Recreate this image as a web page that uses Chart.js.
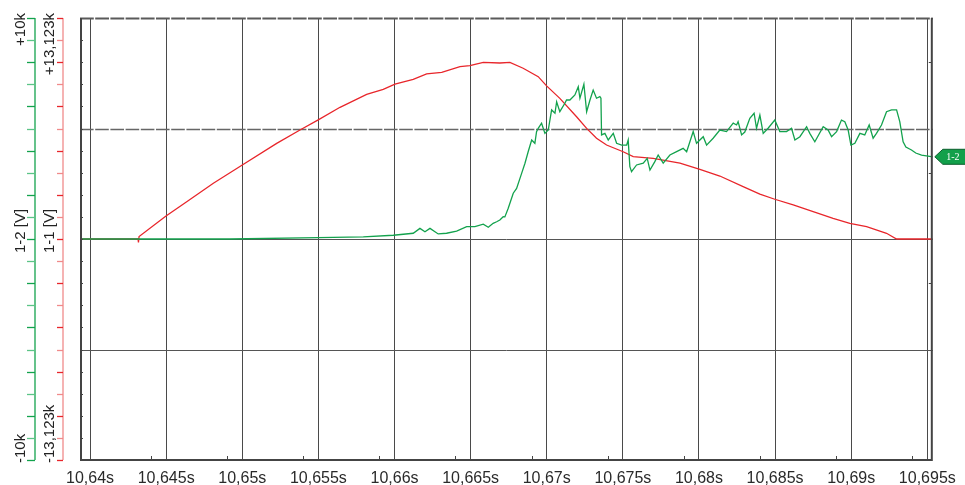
<!DOCTYPE html>
<html>
<head>
<meta charset="utf-8">
<script src="https://cdn.jsdelivr.net/npm/chart.js@4.4.1/dist/chart.umd.min.js"></script>
<style>
  html, body { margin: 0; padding: 0; background: #fff; }
  #wrap { width: 965px; height: 485px; position: relative; }
</style>
</head>
<body>
<div id="wrap"><canvas id="c" width="965" height="485"></canvas></div>
<script>
// Time window of the recording (seconds)
const timeMin = 10.63934;
const timeMax = 10.69536;
const timeStep = 0.005;
const minorTickOffset = 0.004;

// Channel ranges (k)
const greenRange = 10;
const redRange = 13.123;

// Axis captions
const greenAxisLabels = ['+10k', '1-2 [V]', '-10k'];
const redAxisLabels = ['+13,123k', '1-1 [V]', '-13,123k'];
const markerLabel = '1-2';

// Channel 1-1 (red)
const redTime = [
  10.63934, 10.64315, 10.64318, 10.64322, 10.64499, 10.64635, 10.64810, 10.65000, 10.65226,
  10.65379, 10.65499, 10.65642, 10.65817, 10.65926, 10.66003, 10.66123, 10.66211,
  10.66310, 10.66430, 10.66495, 10.66583, 10.66692, 10.66758, 10.66845, 10.66944,
  10.66999, 10.67086, 10.67196, 10.67262, 10.67327, 10.67393, 10.67502, 10.67568,
  10.67699, 10.67875, 10.68006, 10.68137, 10.68290, 10.68400, 10.68498, 10.68619,
  10.68750, 10.68881, 10.68991, 10.69101, 10.69232, 10.69298, 10.69536
];
const redValues = [
  0, 0, -0.2, 0.15, 1.37, 2.21, 3.31, 4.39, 5.68,
  6.47, 7.07, 7.82, 8.59, 8.89, 9.20, 9.48, 9.80,
  9.90, 10.23, 10.29, 10.49, 10.45, 10.49, 10.14, 9.64,
  9.09, 8.35, 7.26, 6.57, 5.98, 5.58, 5.18, 4.89,
  4.79, 4.50, 4.14, 3.74, 3.11, 2.67, 2.36, 2.02,
  1.62, 1.23, 0.93, 0.73, 0.34, 0, 0
];

// Channel 1-2 (green)
const greenTime = [
  10.63934, 10.64919, 10.65499, 10.65795, 10.65992, 10.66123, 10.66167, 10.66200,
  10.66233, 10.66287, 10.66342, 10.66408, 10.66474, 10.66528, 10.66583, 10.66616,
  10.66648, 10.66671, 10.66692, 10.66714, 10.66725, 10.66747, 10.66780, 10.66802,
  10.66835, 10.66857, 10.66878, 10.66901, 10.66922, 10.66933, 10.66945, 10.66966,
  10.66988, 10.67010, 10.67032, 10.67054, 10.67065, 10.67086, 10.67119, 10.67130,
  10.67152, 10.67185, 10.67207, 10.67218, 10.67244, 10.67262, 10.67284, 10.67305,
  10.67327, 10.67349, 10.67356, 10.67360, 10.67382, 10.67404, 10.67437, 10.67459,
  10.67492, 10.67525, 10.67535, 10.67546, 10.67557, 10.67590, 10.67634, 10.67660,
  10.67678, 10.67710, 10.67732, 10.67765, 10.67809, 10.67853, 10.67896, 10.67919,
  10.67962, 10.67984, 10.68028, 10.68050, 10.68093, 10.68137, 10.68181, 10.68225,
  10.68247, 10.68257, 10.68280, 10.68301, 10.68334, 10.68362, 10.68378, 10.68400,
  10.68422, 10.68454, 10.68498, 10.68531, 10.68575, 10.68608, 10.68630, 10.68663,
  10.68707, 10.68728, 10.68761, 10.68816, 10.68848, 10.68871, 10.68904, 10.68936,
  10.68958, 10.68980, 10.68998, 10.69024, 10.69057, 10.69089, 10.69118, 10.69144,
  10.69166, 10.69199, 10.69232, 10.69265, 10.69298, 10.69319, 10.69341, 10.69359,
  10.69396, 10.69424, 10.69462, 10.69536
];
const greenValues = [
  0, 0, 0.06, 0.10, 0.17, 0.26, 0.48, 0.33,
  0.48, 0.23, 0.26, 0.36, 0.56, 0.56, 0.67, 0.53,
  0.71, 0.78, 0.86, 1.01, 1.00, 1.39, 2.07, 2.29,
  2.97, 3.43, 3.95, 4.48, 4.33, 4.86, 5.02, 5.24,
  4.78, 4.93, 5.84, 5.69, 6.21, 5.76, 6.14, 6.29,
  6.29, 6.52, 6.89, 6.37, 7.00, 5.76, 6.29, 6.74,
  6.37, 6.44, 6.37, 4.71, 4.78, 4.48, 4.78, 4.33,
  4.25, 4.25, 4.48, 3.27, 3.05, 3.35, 3.43, 3.65,
  3.12, 3.50, 3.80, 3.43, 3.80, 3.95, 4.10, 3.95,
  4.86, 4.33, 4.63, 4.25, 4.56, 4.93, 4.86, 5.24,
  5.16, 5.31, 4.71, 4.84, 5.46, 5.69, 5.01, 5.61,
  4.78, 5.01, 5.38, 4.86, 4.86, 5.01, 4.48, 4.63,
  5.08, 4.78, 4.40, 5.08, 4.93, 4.63, 4.86, 5.38,
  5.31, 4.93, 4.25, 4.33, 4.78, 4.71, 5.16, 4.56,
  4.78, 5.16, 5.76, 5.84, 5.84, 5.31, 4.40, 4.16,
  4.03, 3.89, 3.80, 3.72
];

const GREEN = '#13a24d';
const RED = '#e8262b';
const FONT = '"Liberation Sans", Arial, sans-serif';

function points(xs, ys) { return xs.map((x, i) => ({ x, y: ys[i] })); }

function formatTime(v) {
  return String(+v.toFixed(3)).replace('.', ',') + 's';
}

// Frame, grid lines, channel axes and the channel marker
const scopeDecor = {
  id: 'scopeDecor',
  beforeDatasetsDraw(chart) {
    const { ctx, chartArea: a, scales } = chart;
    const g = scales.yGreen;
    ctx.save();
    // horizontal division lines
    const yUpper = Math.round(g.getPixelForValue(greenRange / 2)) + 0.5;
    ctx.strokeStyle = '#666';
    ctx.lineWidth = 1.5;
    ctx.setLineDash([13.6, 1.6]);
    ctx.beginPath(); ctx.moveTo(a.left, yUpper); ctx.lineTo(a.right, yUpper); ctx.stroke();
    ctx.setLineDash([]);
    ctx.strokeStyle = '#555';
    ctx.lineWidth = 1;
    [0, -greenRange / 2].forEach(v => {
      const y = Math.round(g.getPixelForValue(v)) + 0.5;
      ctx.beginPath(); ctx.moveTo(a.left, y); ctx.lineTo(a.right, y); ctx.stroke();
    });
    ctx.restore();
  },
  afterDatasetsDraw(chart) {
    const { ctx, chartArea: a, scales } = chart;
    const g = scales.yGreen, r = scales.yRed, x = scales.x;
    ctx.save();

    // top edge
    ctx.strokeStyle = '#5a5a5a';
    ctx.lineWidth = 2;
    ctx.setLineDash([13.8, 1.4]);
    ctx.beginPath(); ctx.moveTo(a.left, a.top + 0.5); ctx.lineTo(a.right, a.top + 0.5); ctx.stroke();
    ctx.setLineDash([]);

    // left, bottom, right edges
    ctx.strokeStyle = '#444';
    ctx.lineWidth = 2;
    ctx.beginPath();
    ctx.moveTo(a.left + 1, a.top); ctx.lineTo(a.left + 1, a.bottom);
    ctx.lineTo(a.right - 1, a.bottom); ctx.lineTo(a.right - 1, a.top);
    ctx.stroke();

    // small inner marks along the frame
    ctx.lineWidth = 1;
    ctx.strokeStyle = '#444';
    for (let i = 1; i < 20; i++) {
      const y = Math.round(g.getPixelForValue(-greenRange + i * greenRange / 10)) + 0.5;
      ctx.beginPath(); ctx.moveTo(a.left, y); ctx.lineTo(a.left + 3, y); ctx.stroke();
    }
    for (let i = 1; i < 4; i++) {
      const y = Math.round(g.getPixelForValue(greenRange - i * greenRange / 2 + greenRange * 0.3)) + 0.5;
      ctx.beginPath(); ctx.moveTo(a.right - 4, y); ctx.lineTo(a.right - 1, y); ctx.stroke();
    }
    for (let t = 10.64 + minorTickOffset; t < timeMax; t += timeStep) {
      const px = Math.round(x.getPixelForValue(t)) + 0.5;
      ctx.beginPath(); ctx.moveTo(px, a.bottom - 4); ctx.lineTo(px, a.bottom); ctx.stroke();
    }

    // channel axes on the left
    const gx = 35, rx = 63;
    ctx.lineWidth = 1.3;
    ctx.strokeStyle = GREEN;
    ctx.beginPath(); ctx.moveTo(gx, a.top); ctx.lineTo(gx, a.bottom); ctx.stroke();
    ctx.strokeStyle = '#f08a8a';
    ctx.beginPath(); ctx.moveTo(rx, a.top); ctx.lineTo(rx, a.bottom); ctx.stroke();
    for (let i = 0; i <= 20; i++) {
      const yg = Math.round(g.getPixelForValue(-greenRange + i * greenRange / 10)) + 0.5;
      ctx.strokeStyle = i % 2 ? '#5cc487' : GREEN;
      ctx.beginPath(); ctx.moveTo(gx - 8, yg); ctx.lineTo(gx, yg); ctx.stroke();
      const yr = Math.round(r.getPixelForValue(-redRange + i * redRange / 10)) + 0.5;
      ctx.strokeStyle = i % 2 ? '#f08a8a' : RED;
      ctx.beginPath(); ctx.moveTo(rx - 6, yr); ctx.lineTo(rx, yr); ctx.stroke();
    }

    // rotated captions
    ctx.fillStyle = '#222';
    ctx.font = '15px ' + FONT;
    ctx.textBaseline = 'alphabetic';
    const vText = (txt, bx, y, align) => {
      ctx.save();
      ctx.translate(bx, y);
      ctx.rotate(-Math.PI / 2);
      ctx.textAlign = align;
      ctx.fillText(txt, 0, 0);
      ctx.restore();
    };
    const midY = (a.top + a.bottom) / 2 - 8;
    vText(greenAxisLabels[0], 25, a.top - 5, 'right');
    vText(greenAxisLabels[1], 25, midY, 'center');
    vText(greenAxisLabels[2], 25, a.bottom + 3, 'left');
    vText(redAxisLabels[0], 54, a.top - 5, 'right');
    vText(redAxisLabels[1], 54, midY, 'center');
    vText(redAxisLabels[2], 54, a.bottom + 3, 'left');

    // channel 1-2 marker at the right edge
    const my = g.getPixelForValue(greenValues[greenValues.length - 1]);
    const tip = a.right + 2;
    ctx.beginPath();
    ctx.moveTo(tip, my);
    ctx.lineTo(tip + 8, my - 7.5);
    ctx.lineTo(966, my - 7.5);
    ctx.lineTo(966, my + 7.5);
    ctx.lineTo(tip + 8, my + 7.5);
    ctx.closePath();
    ctx.fillStyle = '#12a04b';
    ctx.fill();
    ctx.strokeStyle = '#0b5e2c';
    ctx.lineWidth = 1;
    ctx.stroke();
    ctx.fillStyle = '#fff';
    ctx.font = '10px "Liberation Serif", "DejaVu Serif", serif';
    ctx.textAlign = 'center';
    ctx.textBaseline = 'middle';
    ctx.fillText(markerLabel, tip + 18, my + 0.5);

    ctx.restore();
  }
};

new Chart(document.getElementById('c'), {
  type: 'line',
  data: {
    datasets: [
      {
        label: '1-2',
        data: points(greenTime, greenValues),
        yAxisID: 'yGreen',
        borderColor: GREEN,
        borderWidth: 1.3,
        pointRadius: 0,
        tension: 0
      },
      {
        label: '1-1',
        data: points(redTime, redValues),
        yAxisID: 'yRed',
        borderColor: RED,
        borderWidth: 1.3,
        pointRadius: 0,
        tension: 0
      }
    ]
  },
  options: {
    responsive: false,
    animation: false,
    events: [],
    layout: { padding: { left: 80, top: 18, right: 32, bottom: 0 } },
    plugins: { legend: { display: false }, tooltip: { enabled: false } },
    scales: {
      x: {
        type: 'linear',
        min: timeMin,
        max: timeMax,
        afterFit(scale) { scale.height = 25; },
        ticks: {
          stepSize: timeStep,
          includeBounds: false,
          autoSkip: false,
          maxRotation: 0,
          padding: 9,
          color: '#2a2a2a',
          font: { family: FONT, size: 16 },
          callback: v => formatTime(v)
        },
        grid: { color: '#4a4a4a', lineWidth: 1, drawTicks: false },
        border: { display: false }
      },
      yGreen: { type: 'linear', display: false, min: -greenRange, max: greenRange },
      yRed: { type: 'linear', display: false, min: -redRange, max: redRange }
    }
  },
  plugins: [scopeDecor]
});
</script>
</body>
</html>
